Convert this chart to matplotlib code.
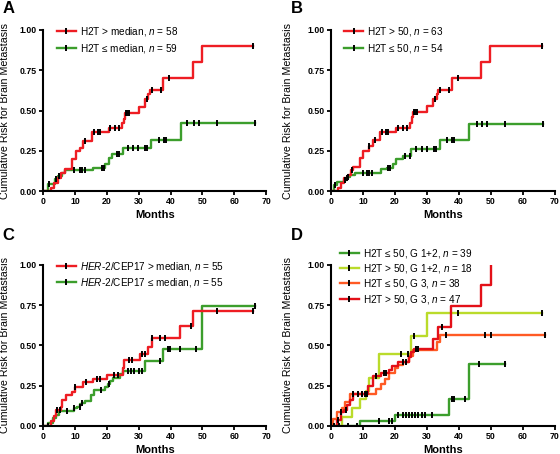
import numpy as np
import matplotlib
matplotlib.use("Agg")
import matplotlib.pyplot as plt
from matplotlib.lines import Line2D

plt.rcParams['font.family'] = ['Liberation Sans', 'DejaVu Sans']
plt.rcParams['mathtext.fontset'] = 'custom'
plt.rcParams['mathtext.rm'] = 'Liberation Sans'
plt.rcParams['mathtext.it'] = 'Liberation Sans:italic'

# ---- panel A : H2T median split ----
a_hi_t = [2.5, 3.5, 4.5, 5.5, 6.8, 8.9, 10.2, 11.5, 12.6, 15.2, 20.5, 24.6, 25.2, 25.6, 30.2, 32.0, 33.0, 33.6, 37.7, 46.9, 50.0]
a_hi_y = [0.02, 0.05, 0.08, 0.11, 0.14, 0.20, 0.25, 0.27, 0.31, 0.365, 0.39, 0.42, 0.45, 0.485, 0.525, 0.57, 0.60, 0.63, 0.70, 0.80, 0.90]
a_hi_c = [13.2, 15.8, 17.3, 17.8, 21.0, 22.6, 23.8, 25.9, 26.4, 27.0, 32.5, 34.2, 37.0, 39.6, 66.0]
a_hi_end = 66.0
a_lo_t = [1.6, 3.7, 4.7, 5.8, 6.8, 15.7, 19.4, 20.5, 21.7, 25.0, 33.9, 43.2]
a_lo_y = [0.045, 0.075, 0.095, 0.11, 0.13, 0.145, 0.17, 0.205, 0.23, 0.268, 0.32, 0.42]
a_lo_c = [1.8, 4.0, 5.0, 9.8, 11.5, 12.3, 13.0, 18.4, 19.0, 23.0, 23.8, 26.6, 28.2, 29.8, 32.1, 32.7, 36.3, 37.8, 38.5, 45.2, 47.4, 48.8, 54.7, 66.5]
a_lo_end = 66.5

# ---- panel B : H2T cut-off 50 ----
b_hi_t = [2.2, 3.2, 4.2, 5.2, 6.2, 7.0, 9.0, 10.0, 11.8, 13.0, 15.4, 20.4, 24.6, 25.2, 25.6, 29.9, 32.0, 33.0, 33.6, 37.8, 46.8, 49.8]
b_hi_y = [0.02, 0.05, 0.08, 0.10, 0.13, 0.15, 0.205, 0.25, 0.28, 0.315, 0.37, 0.39, 0.42, 0.46, 0.49, 0.53, 0.57, 0.60, 0.63, 0.70, 0.80, 0.90]
b_hi_c = [5.0, 6.5, 12.0, 13.8, 16.0, 17.3, 17.9, 21.0, 22.6, 23.8, 25.9, 26.4, 27.0, 32.5, 34.2, 37.0, 39.6, 66.0]
b_hi_end = 66.0
b_lo_t = [1.0, 2.0, 4.0, 5.0, 6.0, 7.5, 15.5, 17.5, 19.5, 20.4, 22.4, 25.0, 34.0, 43.0]
b_lo_y = [0.04, 0.055, 0.07, 0.09, 0.10, 0.115, 0.14, 0.145, 0.17, 0.20, 0.22, 0.26, 0.315, 0.415]
b_lo_c = [1.2, 4.3, 5.2, 10.0, 11.2, 12.0, 12.7, 17.8, 18.6, 23.2, 24.6, 26.6, 28.4, 30.1, 32.1, 32.7, 36.2, 37.8, 38.5, 45.5, 47.3, 48.8, 54.5, 66.4]
b_lo_end = 66.4

# ---- panel C : HER-2/CEP17 ratio ----
c_hi_t = [2.5, 3.5, 4.0, 5.5, 6.0, 7.0, 9.0, 10.0, 12.5, 15.5, 20.0, 25.0, 25.5, 30.5, 33.0, 34.0, 43.0, 47.0]
c_hi_y = [0.03, 0.06, 0.10, 0.12, 0.16, 0.19, 0.21, 0.245, 0.27, 0.293, 0.314, 0.36, 0.407, 0.448, 0.49, 0.545, 0.62, 0.713]
c_hi_c = [4.3, 5.2, 10.0, 13.5, 17.0, 17.7, 22.2, 23.6, 26.8, 28.0, 31.0, 31.8, 34.2, 36.5, 38.3, 46.3, 54.6, 66.0]
c_hi_end = 66.0
c_lo_t = [1.5, 3.0, 4.0, 5.0, 9.5, 10.5, 11.5, 12.2, 13.0, 15.0, 16.0, 19.5, 20.2, 21.0, 22.0, 24.0, 25.0, 32.0, 37.5, 50.0]
c_lo_y = [0.02, 0.05, 0.07, 0.09, 0.11, 0.12, 0.135, 0.145, 0.155, 0.19, 0.221, 0.24, 0.26, 0.28, 0.30, 0.32, 0.341, 0.403, 0.475, 0.744]
c_lo_c = [1.4, 7.5, 9.8, 11.4, 12.3, 18.1, 20.5, 26.5, 27.6, 28.6, 30.0, 31.0, 36.6, 39.3, 39.8, 43.0, 48.0, 66.5]
c_lo_end = 66.5

# ---- panel D : H2T x grade ----
d1_t = [9.0, 20.0, 37.0, 43.0]
d1_y = [0.031, 0.066, 0.17, 0.382]
d1_c = [1.0, 2.5, 5.4, 8.0, 15.0, 18.2, 19.0, 21.0, 22.5, 23.5, 24.5, 25.2, 26.2, 27.2, 28.3, 29.5, 31.5, 37.8, 38.6, 42.0, 46.2, 54.5]
d1_end = 54.5
d2_t = [3.5, 6.5, 9.0, 11.0, 12.0, 15.0, 25.0, 30.0]
d2_y = [0.055, 0.11, 0.17, 0.22, 0.30, 0.444, 0.556, 0.70]
d2_c = [22.0, 24.2, 26.0, 39.6, 66.0]
d2_end = 66.0
d3_t = [0.5, 2.0, 3.5, 4.5, 6.0, 14.0, 15.5, 17.0, 18.0, 20.0, 21.0, 22.5, 24.5, 25.5, 33.0, 34.0]
d3_y = [0.045, 0.085, 0.11, 0.15, 0.20, 0.23, 0.26, 0.29, 0.33, 0.36, 0.38, 0.40, 0.432, 0.469, 0.52, 0.566]
d3_c = [7.0, 8.6, 9.6, 11.0, 36.0, 48.0, 50.0, 67.0]
d3_end = 67.0
d4_t = [2.0, 3.0, 4.0, 5.0, 6.0, 7.0, 11.5, 13.0, 15.5, 18.0, 19.0, 21.0, 24.5, 25.0, 26.0, 32.0, 33.5, 37.5, 47.0, 50.0]
d4_y = [0.04, 0.085, 0.10, 0.13, 0.16, 0.20, 0.25, 0.31, 0.33, 0.35, 0.37, 0.397, 0.43, 0.46, 0.475, 0.54, 0.614, 0.744, 0.872, 1.0]
d4_c = [2.3, 3.2, 4.6, 7.0, 9.6, 10.5, 11.4, 14.0, 16.6, 17.2, 22.6, 23.6, 26.6, 27.2, 34.6]
d4_end = 50.0

RED = '#EE1D23'
GREEN = '#3C9E2C'
LIME = '#BADB2B'
ORANGE = '#FF5A24'
DRED = '#E31018'


def km(ax, t, y, end, cens, color):
    xs = [0] + list(t) + [end]
    ys = [0] + list(y) + [y[-1]]
    ax.step(xs, ys, where='post', color=color, lw=1.7, zorder=2)
    full = np.array([0] + list(y))
    idx = np.searchsorted(np.array(t), np.array(cens), side='right')
    ax.plot(cens, full[idx], ls='none', marker='|', ms=4.5, mew=1.4, color='black', zorder=3)


def handle(color):
    return Line2D([0], [0], color=color, lw=1.7, marker='|', ms=4.5, mew=1.4, mec='black')


def style(ax, ylab_x):
    ax.set_xlim(0, 70)
    ax.set_ylim(0, 1.0)
    ax.set_xticks(range(0, 71, 10))
    ax.set_yticks([0, 0.25, 0.5, 0.75, 1.0])
    ax.set_yticklabels(['0.00', '0.25', '0.50', '0.75', '1.00'])
    for s in ['top', 'right']:
        ax.spines[s].set_visible(False)
    for s in ['left', 'bottom']:
        ax.spines[s].set_linewidth(1.5)
    ax.tick_params(width=1.3, length=3, labelsize=6.3, pad=1.5)
    for lab in ax.get_xticklabels() + ax.get_yticklabels():
        lab.set_fontweight('bold')
    ax.set_ylabel('Cumulative Risk for Brain Metastasis', fontsize=7.7)
    ax.yaxis.set_label_coords(ylab_x, 0.5)
    ax.set_xlabel('Months', fontsize=8, fontweight='bold')
    ax.xaxis.set_label_coords(0.5, -0.115)


fig = plt.figure(figsize=(5.6, 4.54), dpi=100)
axA = fig.add_axes([0.0773, 0.579, 0.398, 0.355])
axB = fig.add_axes([0.591, 0.579, 0.400, 0.355])
axC = fig.add_axes([0.0773, 0.0617, 0.398, 0.355])
axD = fig.add_axes([0.591, 0.0617, 0.400, 0.355])

leg_kw = dict(frameon=False, fontsize=7.2, handlelength=1.9, handletextpad=0.4,
              numpoints=1, borderpad=0, borderaxespad=0)

km(axA, a_lo_t, a_lo_y, a_lo_end, a_lo_c, GREEN)
km(axA, a_hi_t, a_hi_y, a_hi_end, a_hi_c, RED)
style(axA, -0.15)
axA.legend([handle(RED), handle(GREEN)],
           [r'H2T > median, $\mathit{n}$ = 58', r'H2T ≤ median, $\mathit{n}$ = 59'],
           loc='upper left', bbox_to_anchor=(0.06, 1.03), labelspacing=0.35, **leg_kw)

km(axB, b_lo_t, b_lo_y, b_lo_end, b_lo_c, GREEN)
km(axB, b_hi_t, b_hi_y, b_hi_end, b_hi_c, RED)
style(axB, -0.17)
axB.legend([handle(RED), handle(GREEN)],
           [r'H2T > 50, $\mathit{n}$ = 63', r'H2T ≤ 50, $\mathit{n}$ = 54'],
           loc='upper left', bbox_to_anchor=(0.06, 1.03), labelspacing=0.35, **leg_kw)

km(axC, c_lo_t, c_lo_y, c_lo_end, c_lo_c, GREEN)
km(axC, c_hi_t, c_hi_y, c_hi_end, c_hi_c, RED)
style(axC, -0.15)
axC.legend([handle(RED), handle(GREEN)],
           [r'$\mathit{HER}$-$\mathit{2/}$CEP17 > median, $\mathit{n}$ = 55',
            r'$\mathit{HER}$-$\mathit{2/}$CEP17 ≤ median, $\mathit{n}$ = 55'],
           loc='upper left', bbox_to_anchor=(0.06, 1.03), labelspacing=0.35, **leg_kw)

km(axD, d1_t, d1_y, d1_end, d1_c, GREEN)
km(axD, d2_t, d2_y, d2_end, d2_c, LIME)
km(axD, d3_t, d3_y, d3_end, d3_c, ORANGE)
km(axD, d4_t, d4_y, d4_end, d4_c, DRED)
style(axD, -0.17)
axD.legend([handle(GREEN), handle(LIME), handle(ORANGE), handle(DRED)],
           [r'H2T ≤ 50, G 1+2, $\mathit{n}$ = 39', r'H2T > 50, G 1+2, $\mathit{n}$ = 18',
            r'H2T ≤ 50, G 3, $\mathit{n}$ = 38', r'H2T > 50, G 3, $\mathit{n}$ = 47'],
           loc='upper left', bbox_to_anchor=(0.04, 1.11), labelspacing=0.22, **leg_kw)

for lab, x, y in [('A', 0.005, 0.998), ('B', 0.52, 0.998), ('C', 0.005, 0.498), ('D', 0.52, 0.498)]:
    fig.text(x, y, lab, fontsize=12, fontweight='bold', va='top', ha='left')

fig.savefig('out.png', dpi=100)
